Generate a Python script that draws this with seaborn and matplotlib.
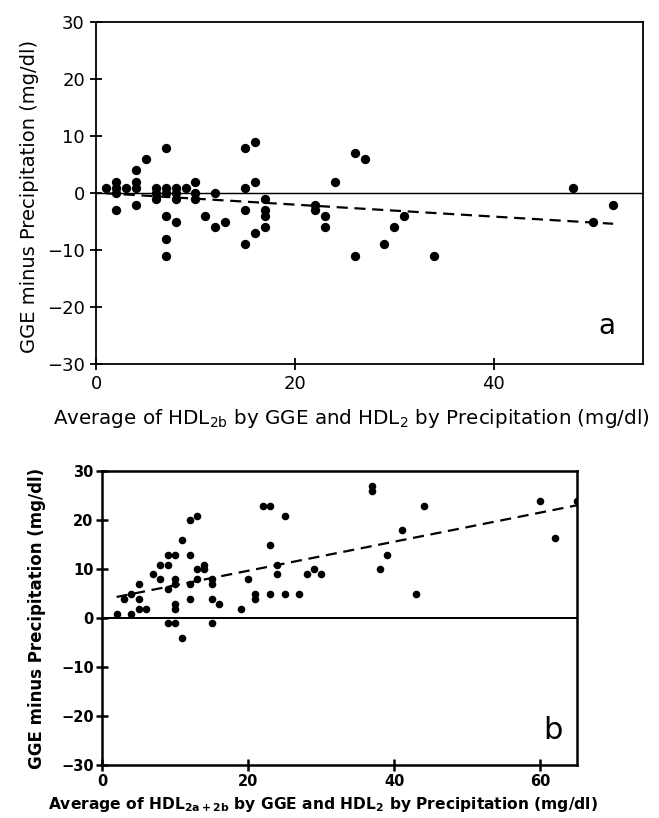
import numpy as np
import seaborn as sns
import matplotlib.pyplot as plt

# panel a: HDL2b (GGE) vs HDL2 (precipitation)
a_x = np.array([1, 2, 2, 2, 2, 3, 4, 4, 4, 4, 5, 6, 6, 6, 7, 7, 7, 7, 7, 7,
                8, 8, 8, 8, 9, 10, 10, 10, 11, 12, 12, 13, 15, 15, 15, 15, 16, 16, 16, 17,
                17, 17, 17, 22, 22, 23, 23, 24, 26, 27, 26, 29, 30, 31, 34, 48, 50, 52])
a_y = np.array([1, 2, 1, 0, -3, 1, 4, 2, 1, -2, 6, 1, 0, -1, 8, 1, 0, -4, -8, -11,
                1, 0, -1, -5, 1, 2, 0, -1, -4, 0, -6, -5, 8, 1, -3, -9, 9, 2, -7, -1,
                -3, -4, -6, -2, -3, -4, -6, 2, 7, 6, -11, -9, -6, -4, -11, 1, -5, -2])
a_fit = (0.1, -0.105)  # intercept, slope

# panel b: HDL2a+2b (GGE) vs HDL2 (precipitation)
b_x = np.array([2, 3, 4, 4, 5, 5, 5, 6, 7, 8, 8, 9, 9, 9, 9, 10, 10, 10, 10, 10,
                10, 11, 11, 12, 12, 12, 12, 13, 13, 13, 14, 14, 15, 15, 15, 15, 16, 19, 20, 21,
                21, 22, 23, 23, 23, 24, 24, 25, 25, 27, 28, 29, 30, 37, 37, 38, 39, 41, 43, 44,
                60, 62, 65])
b_y = np.array([1, 4, 1, 5, 7, 4, 2, 2, 9, 11, 8, 13, 11, 6, -1, 13, 8, 7, 3, 2,
                -1, 16, -4, 20, 13, 7, 4, 21, 10, 8, 11, 10, 8, 7, 4, -1, 3, 2, 8, 5,
                4, 23, 23, 15, 5, 11, 9, 21, 5, 5, 9, 10, 9, 27, 26, 10, 13, 18, 5, 23,
                24, 16.5, 24])
b_fit = (3.8, 0.297)

y_ticks = [-30, -20, -10, 0, 10, 20, 30]
a_xticks = [0, 20, 40]
b_xticks = [0, 20, 40, 60]

sns.set_style('ticks')
plt.rcParams['font.family'] = ['DejaVu Sans']
plt.rcParams['mathtext.fontset'] = 'dejavusans'
plt.rcParams['text.color'] = 'black'
plt.rcParams['axes.labelcolor'] = 'black'
plt.rcParams['xtick.color'] = 'black'
plt.rcParams['ytick.color'] = 'black'

fig = plt.figure(figsize=(6.59, 8.18), dpi=100)
ax1 = fig.add_axes([0.1457, 0.555, 0.830, 0.4175])
ax2 = fig.add_axes([0.1548, 0.0642, 0.7208, 0.3594])


def draw_panel(ax, x, y, fit, xmax, xticks, dot, lw, weight, tick_fs, pad):
    ax.axhline(0, color='black', lw=lw * 0.8, zorder=1)
    sns.scatterplot(x=x, y=y, ax=ax, color='black', s=dot, edgecolor='black',
                    linewidth=0, zorder=3)
    fx = np.array([x.min(), x.max()])
    sns.lineplot(x=fx, y=fit[0] + fit[1] * fx, ax=ax, color='black', lw=1.6,
                 dashes=(5, 3), zorder=2)
    ax.set_xlim(0, xmax)
    ax.set_ylim(-30, 30)
    ax.set_xticks(xticks)
    ax.set_yticks(y_ticks)
    ax.set_yticklabels([str(t).replace('-', '\u2212') for t in y_ticks])
    ax.tick_params(direction='inout', length=8, width=lw, labelsize=tick_fs, pad=pad)
    for lab in ax.get_xticklabels() + ax.get_yticklabels():
        lab.set_fontweight(weight)
    for sp in ax.spines.values():
        sp.set_visible(True)
        sp.set_linewidth(lw)
        sp.set_color('black')


draw_panel(ax1, a_x, a_y, a_fit, 55, a_xticks, 45, 1.3, 'normal', 13, 4)
draw_panel(ax2, b_x, b_y, b_fit, 65, b_xticks, 30, 1.8, 'bold', 10.5, 2)

ax1.set_xlabel('Average of HDL$_{\\mathregular{2b}}$ by GGE and HDL$_{\\mathregular{2}}$ by Precipitation (mg/dl)',
               fontsize=14.3)
ax1.xaxis.set_label_coords(0.466, -0.125)
ax1.set_ylabel('GGE minus Precipitation (mg/dl)', fontsize=14, labelpad=9)
ax1.yaxis.set_label_coords(-0.105, 0.49)
ax1.text(0.95, 0.07, 'a', transform=ax1.transAxes, fontsize=20, ha='right', va='bottom')

ax2.set_xlabel('Average of HDL$_{\\mathbf{2a+2b}}$ by GGE and HDL$_{\\mathbf{2}}$ by Precipitation (mg/dl)',
               fontsize=11.2, fontweight='bold')
ax2.xaxis.set_label_coords(0.466, -0.1)
ax2.set_ylabel('GGE minus Precipitation (mg/dl)', fontsize=12, fontweight='bold')
ax2.yaxis.set_label_coords(-0.118, 0.5)
ax2.text(0.97, 0.07, 'b', transform=ax2.transAxes, fontsize=22, ha='right', va='bottom')

fig.savefig('out.png', dpi=100)
